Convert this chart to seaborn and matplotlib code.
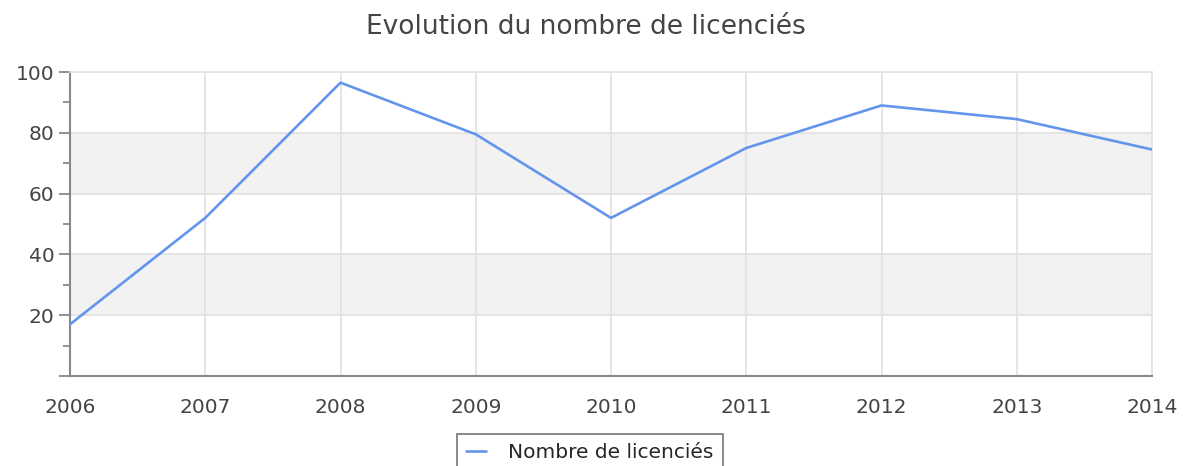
import pandas as pd
import matplotlib
matplotlib.use('Agg')
import matplotlib.pyplot as plt
import seaborn as sns
from matplotlib.ticker import FuncFormatter, MultipleLocator

# data
years = [2006, 2007, 2008, 2009, 2010, 2011, 2012, 2013, 2014]
licencies = [17, 52, 96.5, 79.5, 52, 75, 89, 84.5, 74.5]
series_name = 'Nombre de licenciés'
title = 'Evolution du nombre de licenciés'

sns.set_style('white')
plt.rcParams['font.family'] = ['DejaVu Sans']

df = pd.DataFrame({'year': years, series_name: licencies})

fig = plt.figure(figsize=(11.86, 4.66), dpi=100)
ax = fig.add_axes([70 / 1186, 1 - 376 / 466, (1152 - 70) / 1186, (376 - 72) / 466])

grid_col = '#e3e3e3'
# alternating bands
for lo, hi in [(20, 40), (60, 80)]:
    ax.axhspan(lo, hi, color='#f2f2f2', zorder=0, lw=0)
for y in [20, 40, 60, 80, 100]:
    ax.axhline(y, color=grid_col, lw=1.3, zorder=1)
for x in years:
    ax.axvline(x, color=grid_col, lw=1.3, zorder=1)

sns.lineplot(data=df, x='year', y=series_name, ax=ax, color='#6495ed',
             linewidth=1.9, label=series_name, zorder=3, legend=False)

ax.set_xlim(2006, 2014)
ax.set_ylim(0, 100)
ax.set_xticks(years)
ax.set_xticklabels([str(y) for y in years])
ax.yaxis.set_major_locator(MultipleLocator(20))
ax.yaxis.set_minor_locator(MultipleLocator(10))
ax.yaxis.set_major_formatter(FuncFormatter(lambda v, p: '' if v == 0 else f'{v:.0f}'))
ax.tick_params(axis='y', which='major', length=8, width=1.3, color='#888888',
               labelsize=14.5, labelcolor='#444444', pad=3, left=True)
ax.tick_params(axis='y', which='minor', length=5, width=1.3, color='#888888', left=True)
ax.tick_params(axis='x', length=0, labelsize=14.5, labelcolor='#444444', pad=16)
ax.set_xlabel('')
ax.set_ylabel('')

for s in ['left', 'bottom']:
    ax.spines[s].set_color('#888888')
    ax.spines[s].set_linewidth(1.5)
for s in ['top', 'right']:
    ax.spines[s].set_color(grid_col)
    ax.spines[s].set_linewidth(1.3)

fig.text(586 / 1186, 1 - 27 / 466, title, ha='center', va='center',
         fontsize=19, color='#444444')

handles, labels = ax.get_legend_handles_labels()
leg = fig.legend(handles, labels, loc='upper center',
                 bbox_to_anchor=(590 / 1186, 1 - 424 / 466),
                 fontsize=14.5, frameon=True, fancybox=False,
                 handlelength=1.0, borderpad=0.45, handletextpad=1.1)
leg.get_frame().set_edgecolor('#555555')
leg.get_frame().set_linewidth(1.2)

fig.savefig('out.png', dpi=100)
